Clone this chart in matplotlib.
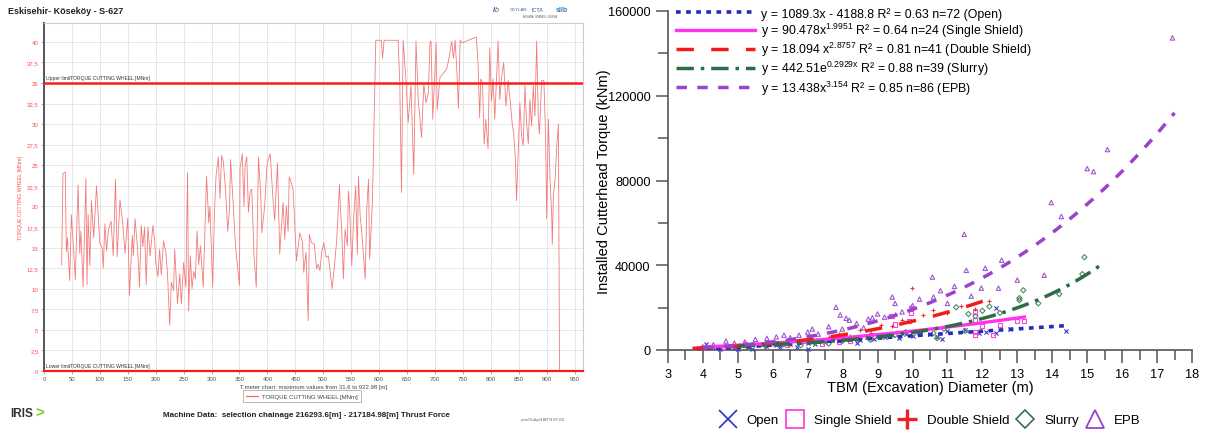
import matplotlib
matplotlib.use('Agg')
import matplotlib.pyplot as plt
from matplotlib.lines import Line2D
import numpy as np

plt.rcParams['font.family'] = ['Liberation Sans', 'DejaVu Sans']
plt.rcParams['mathtext.fontset'] = 'custom'
plt.rcParams['mathtext.rm'] = 'Liberation Sans'
plt.rcParams['mathtext.default'] = 'regular'

# ---------------- Left panel data (torque cutting wheel vs T.meter) ----------------
t_meter = [31.6,34,38,40,42,46,49,53,56,61,64,66,70,75,77,79,82,85,89,94,100,104,106,109,112,115,120,124,128,131,
           136,141,145,150,153,158,160,163,168,171,174,177,180,183,186,190,195,198,200,204,207,210,214,218,221,225,228,
           232,234,239,243,246,250,254,257,259,262,265,268,271,274,277,280,285,291,295,297,302,305,308,312,315,318,321,
           325,329,332,334,339,343,350,351,355,358,360,363,366,369,372,376,380,384,388,390,395,399,401,405,407,410,413,
           418,422,428,431,434,437,439,446,452,458,463,465,469,473,475,479,484,488,491,494,497,501,505,509,516,524,529,
           531,533,536,539,543,545,547,551,554,558,561,563,566,569,575,578,581,583,588,591,594,604,606,609,634,637,640,
           643,648,652,657,662,666,670,676,680,684,688,691,693,696,699,702,704,709,721,725,730,733,736,739,742,745,749,
           774,777,780,782,785,788,791,795,798,801,804,807,810,813,816,819,823,827,831,835,838,841,844,846,849,852,855,
           858,861,864,867,870,873,876,879,882,885,887,891,895,898,900,903,906,909,910,912,915,918,921,922.98]
torque = [12.9,24.0,24.2,14.5,16.2,11.0,19.0,14.8,11.1,22.6,14.3,17.0,10.2,23.4,10.5,19.0,12.8,20.7,16.2,22.5,15.5,15.0,
          12.5,17.9,14.6,17.0,18.2,14.0,23.3,13.9,20.8,18.0,14.3,18.6,9.2,16.5,14.0,18.5,14.5,10.2,17.7,15.1,17.5,10.5,
          17.5,14.0,17.7,16.0,13.2,11.5,14.8,11.7,15.8,14.5,12.0,5.6,10.8,9.8,14.8,8.2,11.8,8.2,13.2,10.2,24.1,7.3,14.0,
          10.0,12.1,11.2,17.0,12.9,15.2,10.2,23.7,18.0,20.0,10.2,19.0,23.7,26.0,21.0,26.2,25.5,22.0,17.0,19.5,25.7,20.0,
          15.0,10.4,24.7,26.4,20.0,25.0,26.0,19.3,21.8,22.1,14.0,10.2,26.0,21.5,16.8,20.0,24.8,25.6,26.4,24.1,20.8,18.3,
          25.3,14.2,20.5,16.0,20.1,17.0,23.6,22.1,13.4,16.8,15.6,12.0,14.4,6.1,16.6,15.6,15.4,12.4,13.0,12.2,14.4,15.6,
          13.8,14.0,10.0,15.8,22.7,19.3,17.2,11.2,17.2,15.2,21.9,20.0,12.8,18.0,22.5,14.2,23.7,18.9,16.8,11.2,19.9,23.3,
          13.6,20.5,30.6,40.2,40.2,38.0,40.2,40.2,35.0,21.7,40.2,35.4,30.2,34.7,23.9,40.1,33.0,28.4,34.9,32.6,33.8,39.9,
          40.1,30.6,35.3,39.9,31.8,35.7,36.7,38.0,40.1,38.0,40.2,36.7,31.9,40.2,39.9,40.6,37.5,30.8,35.5,35.0,27.6,30.6,
          27.0,39.3,32.8,35.5,30.6,35.5,40.1,33.0,35.5,37.5,32.2,35.3,32.6,30.2,28.8,25.7,20.7,26.5,32.6,28.6,27.4,34.7,
          30.2,27.6,33.0,29.8,34.7,31.0,40.1,30.6,28.8,35.3,35.3,28.6,18.5,30.6,23.3,18.9,15.4,21.3,23.3,27.4,30.0,0.0]
upper_limit = 35.0
lower_limit = 0.0
left_yticks = [0, 2.5, 5, 7.5, 10, 12.5, 15, 17.5, 20, 22.5, 25, 27.5, 30, 32.5, 35, 37.5, 40]
left_ytick_labels = ['0', '2,5', '5', '7,5', '10', '12,5', '15', '17,5', '20', '22,5', '25', '27,5',
                     '30', '32,5', '35', '37,5', '40']
left_xticks = list(range(0, 951, 50))

# ---------------- Right panel data (installed torque vs diameter) ----------------
open_d = [3.9, 4.1, 4.3, 4.5, 4.7, 4.9, 5.0, 5.1, 5.3, 5.4, 5.6, 5.8, 5.9, 6.1, 6.2, 6.4, 6.5, 6.7, 6.8, 7.0, 7.0,
          7.2, 7.3, 7.5, 7.7, 7.9, 8.0, 8.2, 8.4, 8.5, 8.7, 8.9, 9.0, 9.2, 9.4, 9.6, 9.8, 10.0, 10.2, 10.5, 10.7,
          10.85, 11.0, 11.5, 11.9, 12.1, 12.4, 12.4, 12.8, 14.4]
open_t = [800, 3000, 1200, 600, 1800, 900, 400, 2200, 1500, 700, 2600, 1800, 3200, 2400, 1600, 3800, 2900, 1200,
          4200, 500, 3400, 2800, 4800, 3900, 5600, 4100, 6000, 5200, 3100, 4500, 6300, 5300, 7100, 6200, 6900, 5800,
          7400, 6500, 8200, 7600, 6100, 5200, 8800, 9600, 7800, 8600, 8000, 20000, 9800, 9000]
single_d = [4.6, 5.2, 5.9, 6.4, 6.9, 7.4, 7.9, 8.2, 8.8, 9.4, 9.5, 9.9, 9.95, 9.95, 10.2, 11.8, 11.8, 11.8, 11.8,
            12.0, 12.3, 12.5, 13.0, 13.2]
single_t = [1500, 2600, 3000, 2200, 4200, 3000, 3700, 4500, 7000, 16000, 12000, 13600, 17500, 20000, 9000, 17900,
            8500, 7000, 14000, 11300, 7000, 11800, 13600, 13600]
double_d = [3.9, 4.4, 4.8, 5.3, 5.7, 6.1, 6.5, 6.9, 7.3, 7.6, 7.9, 8.2, 8.5, 8.8, 9.1, 9.4, 9.5, 9.7, 9.99, 10.3,
            10.6, 11.0, 11.4, 11.8, 12.2]
double_t = [800, 1200, 2000, 1800, 2800, 3400, 3000, 4800, 4200, 6200, 7500, 6800, 9500, 8200, 12000, 11500, 17000,
            14000, 29200, 16500, 19000, 17500, 21000, 19500, 23000]
slurry_d = [5.3, 5.8, 6.3, 6.8, 7.2, 7.6, 8.0, 8.4, 8.8, 9.1, 9.5, 9.8, 10.2, 10.6, 10.7, 10.9, 11.25, 11.5, 11.6,
            11.8, 12.0, 12.2, 12.5, 13.06, 13.06, 13.17, 13.6, 14.2, 14.86, 14.92]
slurry_t = [1200, 1800, 2600, 2200, 3500, 3000, 4300, 5200, 4800, 6200, 7100, 8400, 7600, 8000, 5600, 10000, 20200,
            9000, 17000, 16000, 18500, 20500, 17500, 24500, 23500, 28200, 22000, 26400, 35800, 43800]
epb_d = [4.0, 4.3, 4.66, 4.9, 5.2, 5.5, 5.83, 6.1, 6.32, 6.5, 6.75, 7.0, 7.13, 7.3, 7.6, 7.81, 7.93, 7.99, 8.1, 8.19,
         8.4, 8.6, 8.73, 8.85, 9.0, 9.2, 9.42, 9.5, 9.7, 10.0, 10.2, 10.57, 10.6, 10.8, 11.0, 11.2, 11.48, 11.54,
         11.68, 11.97, 12.08, 12.46, 12.55, 13.0, 13.77, 13.97, 14.26, 15.0, 15.18, 15.58, 17.44]
epb_t = [1500, 2500, 4200, 3200, 3800, 5000, 5500, 6200, 7000, 5800, 7000, 8500, 9900, 7500, 11000, 20200, 16500,
         9900, 15000, 14100, 12500, 10500, 14600, 15200, 17000, 15500, 25000, 22000, 18000, 21000, 24000, 34400, 25000,
         28000, 22000, 30000, 54600, 37600, 25400, 29200, 38600, 29200, 42400, 33000, 35300, 69600, 63000, 85600,
         84200, 94600, 147300]

# trend-line coefficients (from the chart's legend) and drawn ranges
open_fit = (1089.3, -4188.8)
single_fit = (90.478, 1.9951)
double_fit = (18.094, 2.8757)
slurry_fit = (442.51, 0.2929)
epb_fit = (13.438, 3.154)
open_range = (3.8, 14.4)
single_range = (4.0, 13.2)
double_range = (3.7, 12.3)
slurry_range = (5.0, 15.5)
epb_range = (4.0, 17.5)

fit_labels = [
    'y = 1089.3x - 4188.8 R² = 0.63 n=72 (Open)',
    'y = 90.478x$^{1.9951}$ R² = 0.64 n=24 (Single Shield)',
    'y = 18.094 x$^{2.8757}$ R² = 0.81 n=41 (Double Shield)',
    'y = 442.51e$^{0.2929x}$ R² = 0.88 n=39 (Slurry)',
    'y = 13.438x$^{3.154}$ R² = 0.85 n=86 (EPB)',
]
type_names = ['Open', 'Single Shield', 'Double Shield', 'Slurry', 'EPB']

W, H = 1205, 435
def fx(px): return px / W
def fy(py): return 1 - py / H

fig = plt.figure(figsize=(W / 100, H / 100), dpi=100)

# ================= LEFT PANEL =================
axL = fig.add_axes([fx(44), fy(372), (583 - 44) / W, (372 - 24) / H])
axL.plot(t_meter, torque, color='#f37a7a', lw=0.6, zorder=3)
axL.axhline(upper_limit, color='#ff1a1a', lw=1.8, zorder=4)
axL.axhline(lower_limit, color='#ff1a1a', lw=1.6, zorder=4, clip_on=False)
axL.set_xlim(0, 965)
axL.set_ylim(0, 42.3)
axL.set_yticks(left_yticks)
axL.set_yticklabels(left_ytick_labels)
axL.set_xticks(left_xticks)
axL.tick_params(axis='y', labelsize=4.3, labelcolor='#ff4d4d', length=2, width=0.5, pad=2, color='#888')
axL.tick_params(axis='x', labelsize=4.3, labelcolor='#555555', length=2, width=0.5, pad=1.5, color='#888')
axL.grid(True, color='#e3e3e3', lw=0.6)
axL.set_axisbelow(True)
for s in ['top', 'right']:
    axL.spines[s].set_color('#cccccc')
    axL.spines[s].set_linewidth(0.8)
axL.spines['left'].set_color('#555555')
axL.spines['left'].set_linewidth(1.4)
axL.spines['bottom'].set_color('#444444')
axL.spines['bottom'].set_linewidth(1.4)
axL.set_ylabel('TORQUE CUTTING WHEEL [MNm]', fontsize=3.8, color='#ff4d4d', labelpad=3)
axL.set_xlabel('T.meter chart: maximum values from 31.6 to 922.98 [m]', fontsize=4.3, color='#444444', labelpad=2)
axL.text(3, upper_limit + 0.35, 'Upper limitTORQUE CUTTING WHEEL [MNm]', fontsize=3.6, color='#333333',
         va='bottom', ha='left')
axL.text(3, lower_limit + 0.35, 'Lower limitTORQUE CUTTING WHEEL [MNm]', fontsize=3.6, color='#333333',
         va='bottom', ha='left')
legL = fig.legend([Line2D([], [], color='#f46a6a', lw=0.9)], ['TORQUE CUTTING WHEEL [MNm]'],
                  loc='center', bbox_to_anchor=(fx(302), fy(397)), fontsize=4.3, frameon=True,
                  fancybox=False, handlelength=2.0, handletextpad=0.6, borderpad=0.6)
legL.get_frame().set_edgecolor('#999999')
legL.get_frame().set_linewidth(0.6)
for t in legL.get_texts():
    t.set_color('#444444')

fig.text(fx(8), fy(12), 'Eskisehir- Köseköy - S-627', fontsize=6.5, fontweight='bold', color='#222222',
         va='center', ha='left')
fig.text(fx(306), fy(416), 'Machine Data:  selection chainage 216293.6[m] - 217184.98[m] Thrust Force',
         fontsize=5.8, fontweight='bold', color='#222222', va='center', ha='center')
fig.text(fx(10), fy(414), 'IRIS', fontsize=8.5, fontweight='bold', color='#333333', va='center', ha='left')
fig.text(fx(35), fy(414), '>', fontsize=11, fontweight='bold', color='#7fcc2e', va='center', ha='left')
fig.text(fx(543), fy(420), 'printed Thu Aug 08 MKP 09 SEP 2013', fontsize=1.8, color='#555555',
         va='center', ha='center')
# small header logos
fig.text(fx(493), fy(10), 'ilb', fontsize=5, color='#3a5fa0', style='italic', va='center')
fig.text(fx(510), fy(10), 'CEYLAN', fontsize=3.2, color='#3a5fa0', va='center')
fig.text(fx(532), fy(10), 'ICTA', fontsize=4, color='#3a5fa0', va='center')
fig.text(fx(556), fy(10), 'sIIb', fontsize=5, color='#3a7fc0', fontweight='bold', va='center')
fig.text(fx(540), fy(17), 'ANKARA  ISTANBUL  BURSA', fontsize=1.8, color='#555555', va='center', ha='center')

# ================= RIGHT PANEL =================
axR = fig.add_axes([fx(668), fy(351), (1192 - 668) / W, (351 - 12) / H])
axR.set_xlim(3, 18)
axR.set_ylim(0, 160000)

c_open, c_single, c_double, c_slurry, c_epb = '#2a2ab8', '#ff33ee', '#f01c1c', '#2e6b46', '#9a44cc'

axR.scatter(open_d, open_t, marker='x', s=9, color='#3b3bc4', lw=0.8, zorder=3, clip_on=False)
axR.scatter(single_d, single_t, marker='s', s=9, facecolors='none', edgecolors='#ff44dd', lw=0.8, zorder=3, clip_on=False)
axR.scatter(double_d, double_t, marker='+', s=11, color='#ee3333', lw=0.8, zorder=3, clip_on=False)
axR.scatter(slurry_d, slurry_t, marker='D', s=7, facecolors='none', edgecolors='#4d8a63', lw=0.8, zorder=3, clip_on=False)
axR.scatter(epb_d, epb_t, marker='^', s=10, facecolors='none', edgecolors='#a155d6', lw=0.8, zorder=3, clip_on=False)

xo = np.linspace(*open_range, 100)
xs = np.linspace(*single_range, 100)
xd = np.linspace(*double_range, 100)
xsl = np.linspace(*slurry_range, 100)
xe = np.linspace(*epb_range, 200)
lines = []
lines.append(axR.plot(xo, open_fit[0] * xo + open_fit[1], color=c_open, lw=2.6,
                      linestyle=(0, (1.3, 1.5)), zorder=4)[0])
lines.append(axR.plot(xs, single_fit[0] * xs ** single_fit[1], color=c_single, lw=2.4, zorder=4)[0])
lines.append(axR.plot(xd, double_fit[0] * xd ** double_fit[1], color=c_double, lw=2.5,
                      linestyle=(0, (5, 5)), zorder=4)[0])
lines.append(axR.plot(xsl, slurry_fit[0] * np.exp(slurry_fit[1] * xsl), color=c_slurry, lw=2.5,
                      linestyle=(0, (5, 2, 1, 2)), zorder=4)[0])
lines.append(axR.plot(xe, epb_fit[0] * xe ** epb_fit[1], color=c_epb, lw=2.5,
                      linestyle=(0, (3, 3)), zorder=4)[0])

legR = axR.legend(lines, fit_labels, loc='upper left', bbox_to_anchor=(0.015, 1.012), frameon=False,
                  fontsize=8.9, handlelength=6.4, handletextpad=0.5, labelspacing=0.08, borderpad=0,
                  borderaxespad=0)

axR.spines['top'].set_visible(False)
axR.spines['right'].set_visible(False)
axR.spines['left'].set_color('#555555')
axR.spines['bottom'].set_color('#555555')
axR.spines['left'].set_linewidth(1.2)
axR.spines['bottom'].set_linewidth(1.2)
axR.set_yticks([0, 40000, 80000, 120000, 160000])
axR.set_yticks([20000, 60000, 100000, 140000], minor=True)
axR.set_xticks(range(3, 19))
axR.set_xticks(np.arange(3.5, 18, 1.0), minor=True)
axR.tick_params(axis='both', which='major', labelsize=9.2, length=9, width=1.1, color='#555555', direction='out')
axR.tick_params(axis='both', which='minor', length=7, width=1.1, color='#555555', direction='out')
axR.tick_params(axis='x', which='major', pad=4)
axR.set_xlabel('TBM (Excavation) Diameter (m)', fontsize=10.5, labelpad=0)
axR.set_ylabel('Installed Cutterhead Torque (kNm)', fontsize=10.5, labelpad=-2)

handles = [
    Line2D([], [], marker='x', ls='none', color='#3b3bc4', ms=13, mew=1.3),
    Line2D([], [], marker='s', ls='none', mfc='none', mec='#ff44dd', ms=13, mew=1.3),
    Line2D([], [], marker='+', ls='none', color='#ee2222', ms=15, mew=2.4),
    Line2D([], [], marker='D', ls='none', mfc='none', mec='#3c6e50', ms=9, mew=1.2),
    Line2D([], [], marker='^', ls='none', mfc='none', mec='#9a44cc', ms=13, mew=1.3),
]
fig.legend(handles, type_names, loc='center', bbox_to_anchor=(fx(930), fy(421)), ncol=5, frameon=False,
           fontsize=9.5, handlelength=1.2, handletextpad=0.85, columnspacing=0.6, borderpad=0)

fig.savefig('out.png', dpi=100)
